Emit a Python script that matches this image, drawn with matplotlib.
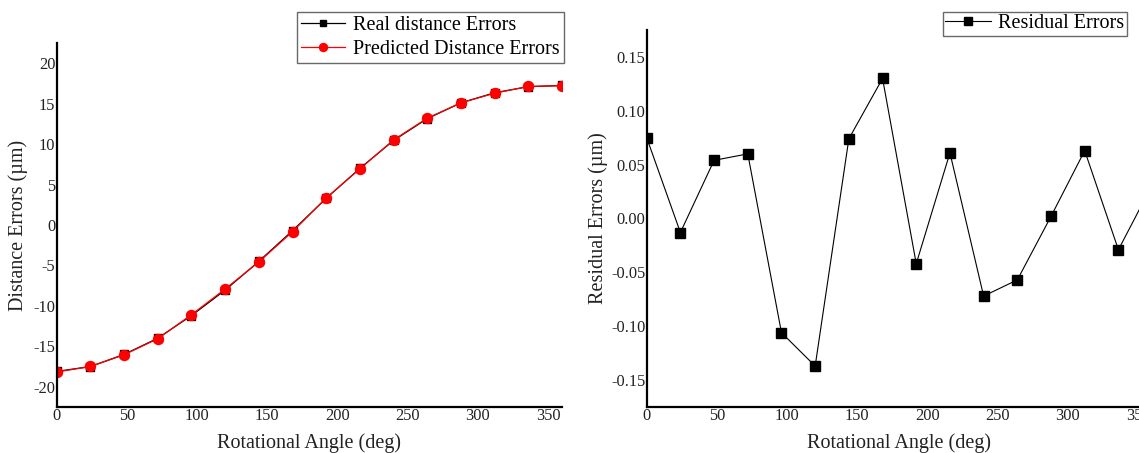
import matplotlib
matplotlib.use("Agg")
import matplotlib.pyplot as plt
from matplotlib.ticker import FormatStrFormatter, MultipleLocator

plt.rcParams['font.family'] = ['Liberation Serif', 'DejaVu Serif']
plt.rcParams['axes.unicode_minus'] = False

angles = [0, 24, 48, 72, 96, 120, 144, 168, 192, 216, 240, 264, 288, 312, 336, 360]
real_errors = [-18.10, -17.50, -16.00, -14.00, -11.20, -8.05, -4.50, -0.70,
               3.30, 7.00, 10.45, 13.15, 15.10, 16.35, 17.10, 17.25]
predicted_errors = [-18.18, -17.49, -16.05, -14.06, -11.09, -7.91, -4.57, -0.83,
                    3.34, 6.94, 10.52, 13.21, 15.10, 16.29, 17.13, 17.22]
residual_errors = [0.075, -0.013, 0.054, 0.060, -0.106, -0.137, 0.074, 0.130,
                   -0.042, 0.061, -0.072, -0.057, 0.002, 0.063, -0.029, 0.031]

W, H = 1139, 453
fig = plt.figure(figsize=(W / 100, H / 100), dpi=100)

def px_axes(left, right, top, bottom):
    return fig.add_axes([left / W, 1 - bottom / H, (right - left) / W, (bottom - top) / H])

ax1 = px_axes(56.7, 562.0, 43.0, 407.0)
ax2 = px_axes(646.7, 1152.1, 30.0, 407.0)

ax1.plot(angles, real_errors, color='black', marker='s', ms=6.0, lw=0.9,
         label='Real distance Errors', clip_on=True)
ax1.plot(angles, predicted_errors, color='#ff0000', marker='o', ms=7.2, lw=0.9,
         label='Predicted Distance Errors', clip_on=True)
ax1.set_xlim(0, 360)
ax1.set_ylim(-22.5, 22.5)
ax1.xaxis.set_major_locator(MultipleLocator(50))
ax1.yaxis.set_major_locator(MultipleLocator(5))
ax1.set_xlabel('Rotational Angle (deg)', fontsize=14.5)
ax1.set_ylabel('Distance Errors (\u00b5m)', fontsize=14.5)

ax2.plot(angles, residual_errors, color='black', marker='s', ms=6.5, lw=0.8,
         label='Residual Errors', clip_on=True)
ax2.set_xlim(0, 360)
ax2.set_ylim(-0.175, 0.175)
ax2.xaxis.set_major_locator(MultipleLocator(50))
ax2.yaxis.set_major_locator(MultipleLocator(0.05))
ax2.yaxis.set_major_formatter(FormatStrFormatter('%.2f'))
ax2.set_xlabel('Rotational Angle (deg)', fontsize=14.5)
ax2.set_ylabel('Residual Errors (\u00b5m)', fontsize=14.5)

for ax, ylab_x, xlab_y in [(ax1, (18 - 56.7) / 505.3, -36 / 364.0),
                           (ax2, (598 - 646.7) / 505.4, -36 / 377.0)]:
    for s in ['top', 'right']:
        ax.spines[s].set_visible(False)
    for s in ['left', 'bottom']:
        ax.spines[s].set_linewidth(1.6)
    ax.tick_params(length=0, pad=1, labelsize=11.8, colors='#222222')
    ax.yaxis.set_label_coords(ylab_x, 0.5)
    ax.xaxis.set_label_coords(0.5, xlab_y)
    ax.xaxis.label.set_va('center')
    ax.yaxis.label.set_va('center')
    ax.xaxis.label.set_color('#222222')
    ax.yaxis.label.set_color('#222222')

leg1 = ax1.legend(loc='upper right', bbox_to_anchor=(564 / W, 1 - 12 / H),
                  bbox_transform=fig.transFigure, fontsize=14.5, frameon=True,
                  fancybox=False, edgecolor='#444444', handlelength=2.2,
                  borderpad=0.2, labelspacing=0.25, handletextpad=0.4,
                  borderaxespad=0, markerscale=0.8)
leg1.get_frame().set_linewidth(1.0)
leg2 = ax2.legend(loc='upper right', bbox_to_anchor=(1127 / W, 1 - 11.7 / H),
                  bbox_transform=fig.transFigure, fontsize=14.5, frameon=True,
                  fancybox=False, edgecolor='#444444', handlelength=2.3,
                  borderpad=0.12, handletextpad=0.35, borderaxespad=0,
                  markerscale=0.8)
leg2.get_frame().set_linewidth(1.0)

fig.savefig('out.png', dpi=100)
